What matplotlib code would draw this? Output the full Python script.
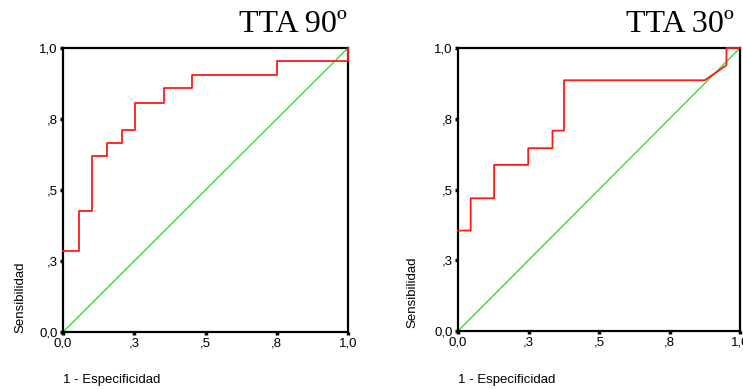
import matplotlib.pyplot as plt

# Curva ROC - TTA 90
fpr_90 = [0.0, 0.055, 0.055, 0.102, 0.102, 0.154, 0.154, 0.206, 0.206, 0.251, 0.251,
          0.354, 0.354, 0.453, 0.453, 0.752, 0.752, 1.0, 1.0]
tpr_90 = [0.284, 0.284, 0.427, 0.427, 0.619, 0.619, 0.665, 0.665, 0.712, 0.712, 0.806,
          0.806, 0.859, 0.859, 0.906, 0.906, 0.953, 0.953, 1.0]

# Curva ROC - TTA 30
fpr_30 = [0.0, 0.045, 0.045, 0.128, 0.128, 0.249, 0.249, 0.335, 0.335, 0.376, 0.376,
          0.875, 0.952, 0.952, 1.0]
tpr_30 = [0.355, 0.355, 0.469, 0.469, 0.587, 0.587, 0.646, 0.646, 0.708, 0.708, 0.886,
          0.886, 0.939, 1.0, 1.0]

tick_pos = [0.0, 0.25, 0.5, 0.75, 1.0]
tick_labels = ["0,0", ",3", ",5", ",8", "1,0"]
titles = ["TTA 90º", "TTA 30º"]

W, H = 743, 390
fig = plt.figure(figsize=(W / 100, H / 100), dpi=100)
plt.rcParams['font.family'] = ['Liberation Sans', 'DejaVu Sans']

# posiciones en pixeles: (izq, der, arriba, abajo)
boxes = [(63, 348, 48, 332), (458, 740, 48, 331)]
curves = [(fpr_90, tpr_90), (fpr_30, tpr_30)]
title_x = [347, 734]
ylab_pos = [(20, 333), (412, 328)]

for i in range(2):
    l, r, t, b = boxes[i]
    ax = fig.add_axes([l / W, (H - b) / H, (r - l) / W, (b - t) / H])
    ax.plot([0, 1], [0, 1], color="#33dd33", lw=1.0, zorder=2)
    ax.plot(curves[i][0], curves[i][1], color="#ff1a1a", lw=1.3, zorder=4, clip_on=False)
    ax.set_xlim(0, 1)
    ax.set_ylim(0, 1)
    ax.set_xticks(tick_pos)
    ax.set_xticklabels(tick_labels)
    ax.set_yticks(tick_pos)
    ax.set_yticklabels(tick_labels)
    ax.tick_params(direction="out", length=2.5, width=2.5, labelsize=9.5, pad=1.5)
    for s in ax.spines.values():
        s.set_linewidth(1.6)
        s.set_color("black")

    fig.text(title_x[i] / W, 1 - 25 / H, titles[i], ha="right", va="center",
             fontsize=23, family="Liberation Serif")
    fig.text(ylab_pos[i][0] / W, (H - ylab_pos[i][1]) / H, "Sensibilidad", rotation=90,
             ha="center", va="bottom", fontsize=9.5)
    fig.text(l / W, 1 - 380 / H, "1 - Especificidad", ha="left", va="center", fontsize=9.5)

plt.savefig("out.png", dpi=100)
